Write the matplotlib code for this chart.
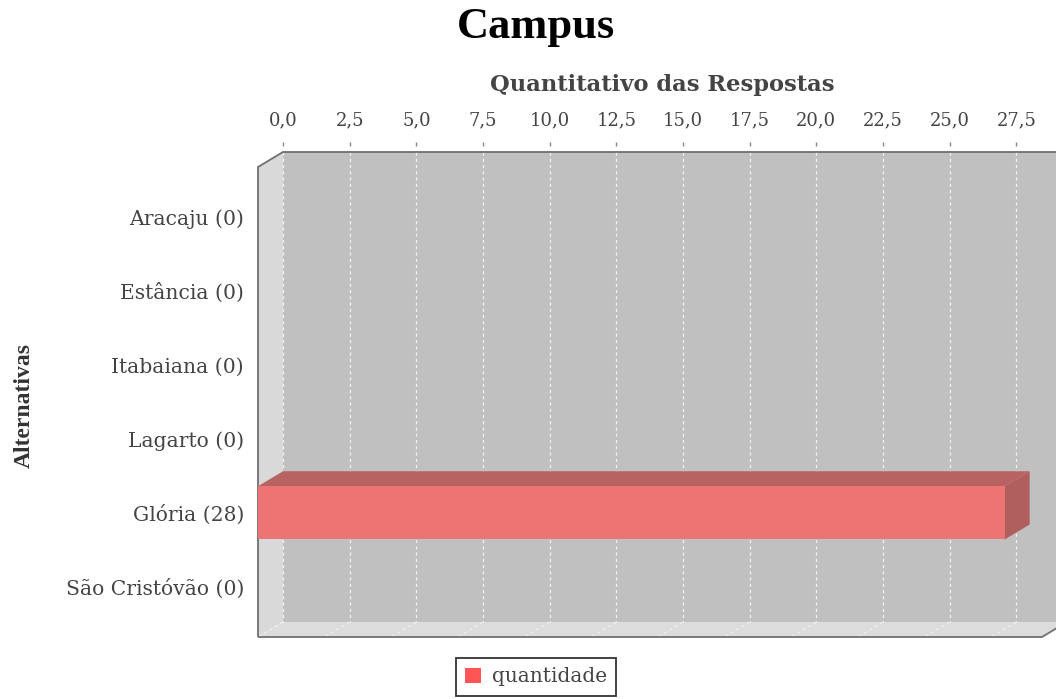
import matplotlib.pyplot as plt
from matplotlib.patches import Polygon, Rectangle, Patch
import numpy as np

# dados do grafico
categorias = ['Aracaju', 'Estância', 'Itabaiana', 'Lagarto', 'Glória', 'São Cristóvão']
quantidade = [0, 0, 0, 0, 28, 0]
ticks = np.arange(0, 28, 2.5)
xmax = 29.4

W, H = 1056, 699
fig = plt.figure(figsize=(W / 100, H / 100), dpi=100)
fig.patch.set_facecolor('white')

# front face of the 3d plot area
ax = fig.add_axes([258 / W, (H - 637) / H, 784 / W, 470 / H])
ax.set_xlim(0, xmax)
ytop, ybot = -0.68, len(categorias) - 1 + 0.68
ax.set_ylim(ybot, ytop)
ax.patch.set_visible(False)
for s in ax.spines.values():
    s.set_visible(False)

# depth of the 3d effect in data units
dx = 25 / (784 / xmax)
dy = 15 / (470 / (ybot - ytop))

wall = '#c0c0c0'
side = '#d9d9d9'
# back wall
ax.add_patch(Rectangle((dx, ytop - dy), xmax, ybot - ytop, facecolor=wall,
                       edgecolor='none', clip_on=False, zorder=0))
# left wall
ax.add_patch(Polygon([(0, ytop), (dx, ytop - dy), (dx, ybot - dy), (0, ybot)],
                     facecolor=side, edgecolor='none', clip_on=False, zorder=0))
# floor
ax.add_patch(Polygon([(0, ybot), (xmax, ybot), (xmax + dx, ybot - dy), (dx, ybot - dy)],
                     facecolor='#dcdcdc', edgecolor='none', clip_on=False, zorder=0))

# gridlines on wall and floor
for t in ticks:
    ax.plot([t + dx, t + dx], [ytop - dy, ybot - dy], color='white', lw=0.9,
            ls=(0, (2.5, 2.5)), alpha=0.8, clip_on=False, zorder=1)
    ax.plot([t + dx, t], [ybot - dy, ybot], color='white', lw=0.9,
            ls=(0, (2.5, 2.5)), alpha=0.6, clip_on=False, zorder=1)

# outline
ax.add_patch(Polygon([(0, ybot), (0, ytop), (dx, ytop - dy), (xmax + dx, ytop - dy),
                      (xmax + dx, ybot - dy), (xmax, ybot)], closed=True,
                     facecolor='none', edgecolor='#707070', lw=1.3, clip_on=False, zorder=2))

# bars
bh = 0.72
for i, v in enumerate(quantidade):
    if v <= 0:
        continue
    y0, y1 = i - bh / 2, i + bh / 2
    ax.add_patch(Polygon([(0, y0), (v, y0), (v + dx, y0 - dy), (dx, y0 - dy)],
                         facecolor='#b86262', edgecolor='none', clip_on=False, zorder=3))
    ax.add_patch(Polygon([(v, y0), (v + dx, y0 - dy), (v + dx, y1 - dy), (v, y1)],
                         facecolor='#b05e5e', edgecolor='none', clip_on=False, zorder=3))
    ax.add_patch(Rectangle((0, y0), v, bh, facecolor='#ec7474', edgecolor='none',
                           clip_on=False, zorder=4))

serif = 'DejaVu Serif'
# top value axis
ax.xaxis.tick_top()
ax.spines['top'].set_position(('outward', 15))
ax.set_xticks([t + dx for t in ticks])
ax.set_xticklabels([f'{t:.1f}'.replace('.', ',') for t in ticks],
                   fontfamily=serif, fontsize=13, color='#444444')
ax.tick_params(axis='x', length=3, width=1, color='#888888', pad=9)

ax.set_yticks(range(len(categorias)))
ax.set_yticklabels([f'{c} ({v})' for c, v in zip(categorias, quantidade)],
                   fontfamily=serif, fontsize=14.6, color='#444444')
ax.tick_params(axis='y', length=0, pad=10)

ax.text((662 - 258) / 784, 1 + (167 - 85) / 470, 'Quantitativo das Respostas',
        transform=ax.transAxes, ha='center', va='center', fontfamily=serif,
        fontweight='bold', fontsize=16.3, color='#444444')

fig.text(536 / W, 1 - 27 / H, 'Campus', ha='center', va='center',
         fontfamily='Liberation Serif', fontweight='bold', fontsize=32, color='black')
fig.text(24 / W, 1 - 406 / H, 'Alternativas', ha='center', va='center', rotation=90,
         fontfamily='Liberation Serif', fontweight='bold', fontsize=17, color='#333333')

leg = fig.legend(handles=[Patch(facecolor='#ff5555', label='quantidade')],
                 loc='center', bbox_to_anchor=(536 / W, 1 - 677 / H),
                 prop={'family': serif, 'size': 14.5}, fancybox=False,
                 edgecolor='#333333', handlelength=0.8, handleheight=0.8,
                 handletextpad=0.5, borderpad=0.45, framealpha=1)
leg.get_frame().set_linewidth(1.3)
for t in leg.get_texts():
    t.set_color('#444444')

fig.savefig('out.png', dpi=100)
